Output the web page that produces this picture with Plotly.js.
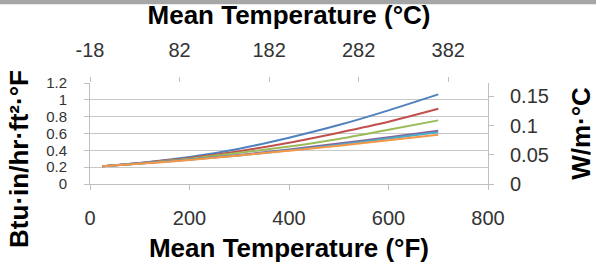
<!DOCTYPE html>
<html>
<head>
<meta charset="utf-8">
<script src="https://cdn.plot.ly/plotly-3.0.1.min.js"></script>
<style>html,body{margin:0;padding:0;background:#fff;}#chart{width:596px;height:270px;}</style>
</head>
<body>
<div id="chart"></div>
<script>
// Mean temperature (°F)
const tempF = [25, 100, 200, 300, 400, 500, 600, 700];
// Thermal conductivity, Btu·in/hr·ft²·°F
const seriesBlue   = [0.21, 0.25, 0.32, 0.42, 0.55, 0.70, 0.875, 1.065];
const seriesRed    = [0.21, 0.25, 0.31, 0.39, 0.49, 0.61, 0.74, 0.895];
const seriesGreen  = [0.21, 0.245, 0.30, 0.37, 0.445, 0.535, 0.645, 0.756];
const seriesPurple = [0.21, 0.245, 0.29, 0.345, 0.41, 0.48, 0.555, 0.633];
const seriesTeal   = [0.21, 0.243, 0.288, 0.34, 0.40, 0.465, 0.54, 0.614];
const seriesOrange = [0.21, 0.24, 0.285, 0.34, 0.395, 0.455, 0.52, 0.586];

const bottomTicks = [0, 200, 400, 600, 800];
const topTickLabels = ['-18', '82', '182', '282', '382'];
const topTickPositionsF = [0, 180, 360, 540, 720];
const leftTicks = [0, 0.2, 0.4, 0.6, 0.8, 1, 1.2];
const rightTicks = [0, 0.05, 0.1, 0.15];
const btuToW = 0.144228;

const colors = ['#4F81BD', '#C0504D', '#9BBB59', '#8064A2', '#4BACC6', '#F79646'];
const allSeries = [seriesBlue, seriesRed, seriesGreen, seriesPurple, seriesTeal, seriesOrange];

const traces = allSeries.map((s, i) => ({
  x: tempF, y: s, type: 'scatter', mode: 'lines',
  line: {color: colors[i], width: 2, shape: 'spline', smoothing: 0.6},
  hoverinfo: 'skip', showlegend: false
}));
// same blue series in SI units on the secondary (top/right) axes, drawn transparent
traces.push({
  x: tempF, y: seriesBlue.map(v => v * btuToW), xaxis: 'x2', yaxis: 'y2',
  type: 'scatter', mode: 'lines', line: {color: 'rgba(0,0,0,0)', width: 0},
  hoverinfo: 'skip', showlegend: false
});

const FONT = 'Liberation Sans, Arial, sans-serif';
const tickFont = {family: FONT, size: 20, color: '#333'};
const leftTickFont = {family: FONT, size: 15, color: '#333'};
const titleFont = {family: FONT, size: 26, color: '#000', weight: 'bold'};
const axisCol = '#bfbfbf';

const layout = {
  width: 596, height: 270,
  margin: {l: 90, r: 108, t: 83, b: 86, pad: 0},
  paper_bgcolor: '#fff', plot_bgcolor: '#fff',
  showlegend: false,
  xaxis: {
    range: [0, 800], tickvals: bottomTicks, ticks: 'outside', ticklen: 5, tickcolor: axisCol,
    showline: true, linecolor: axisCol, showgrid: false, zeroline: false,
    tickfont: tickFont, ticklabelstandoff: 11,
    title: {text: '<b>Mean Temperature (°F)</b>', font: titleFont, standoff: 10}
  },
  xaxis2: {
    overlaying: 'x', side: 'top', range: [0, 800],
    tickvals: topTickPositionsF, ticktext: topTickLabels, ticks: 'outside', ticklen: 5, tickcolor: axisCol,
    showline: false, showgrid: false, zeroline: false,
    tickfont: tickFont, ticklabelstandoff: 12,
    title: {text: '<b>Mean Temperature (°C)</b>', font: titleFont, standoff: 8}
  },
  yaxis: {
    range: [0, 1.2], tickvals: leftTicks, ticks: 'outside', ticklen: 5, tickcolor: axisCol,
    showline: true, linecolor: axisCol, showgrid: true, gridcolor: '#c8c8c8', gridwidth: 1, zeroline: false,
    tickfont: leftTickFont, ticklabelstandoff: 14
  },
  yaxis2: {
    overlaying: 'y', side: 'right', range: [0, 1.2 * btuToW], tickvals: rightTicks,
    ticks: 'outside', ticklen: 5, tickcolor: axisCol,
    showline: true, linecolor: axisCol, showgrid: false, zeroline: false,
    tickfont: tickFont, ticklabelstandoff: 12,
    title: {text: '<b>W/m·°C</b>', font: titleFont, standoff: 24}
  },
  annotations: [
    {text: '<b>Btu·in/hr·ft²·°F</b>', xref: 'paper', yref: 'paper', x: -0.178, y: 0.25,
     xanchor: 'center', yanchor: 'middle', textangle: -90, showarrow: false, font: titleFont}
  ],
  shapes: [
    {type: 'rect', xref: 'paper', yref: 'paper', x0: -0.3, x1: 1.3, y0: 1.78, y1: 1.95,
     line: {width: 0}, fillcolor: '#a6a6a6', layer: 'above'}
  ]
};

Plotly.newPlot('chart', traces, layout, {staticPlot: true, displayModeBar: false});
</script>
</body>
</html>
